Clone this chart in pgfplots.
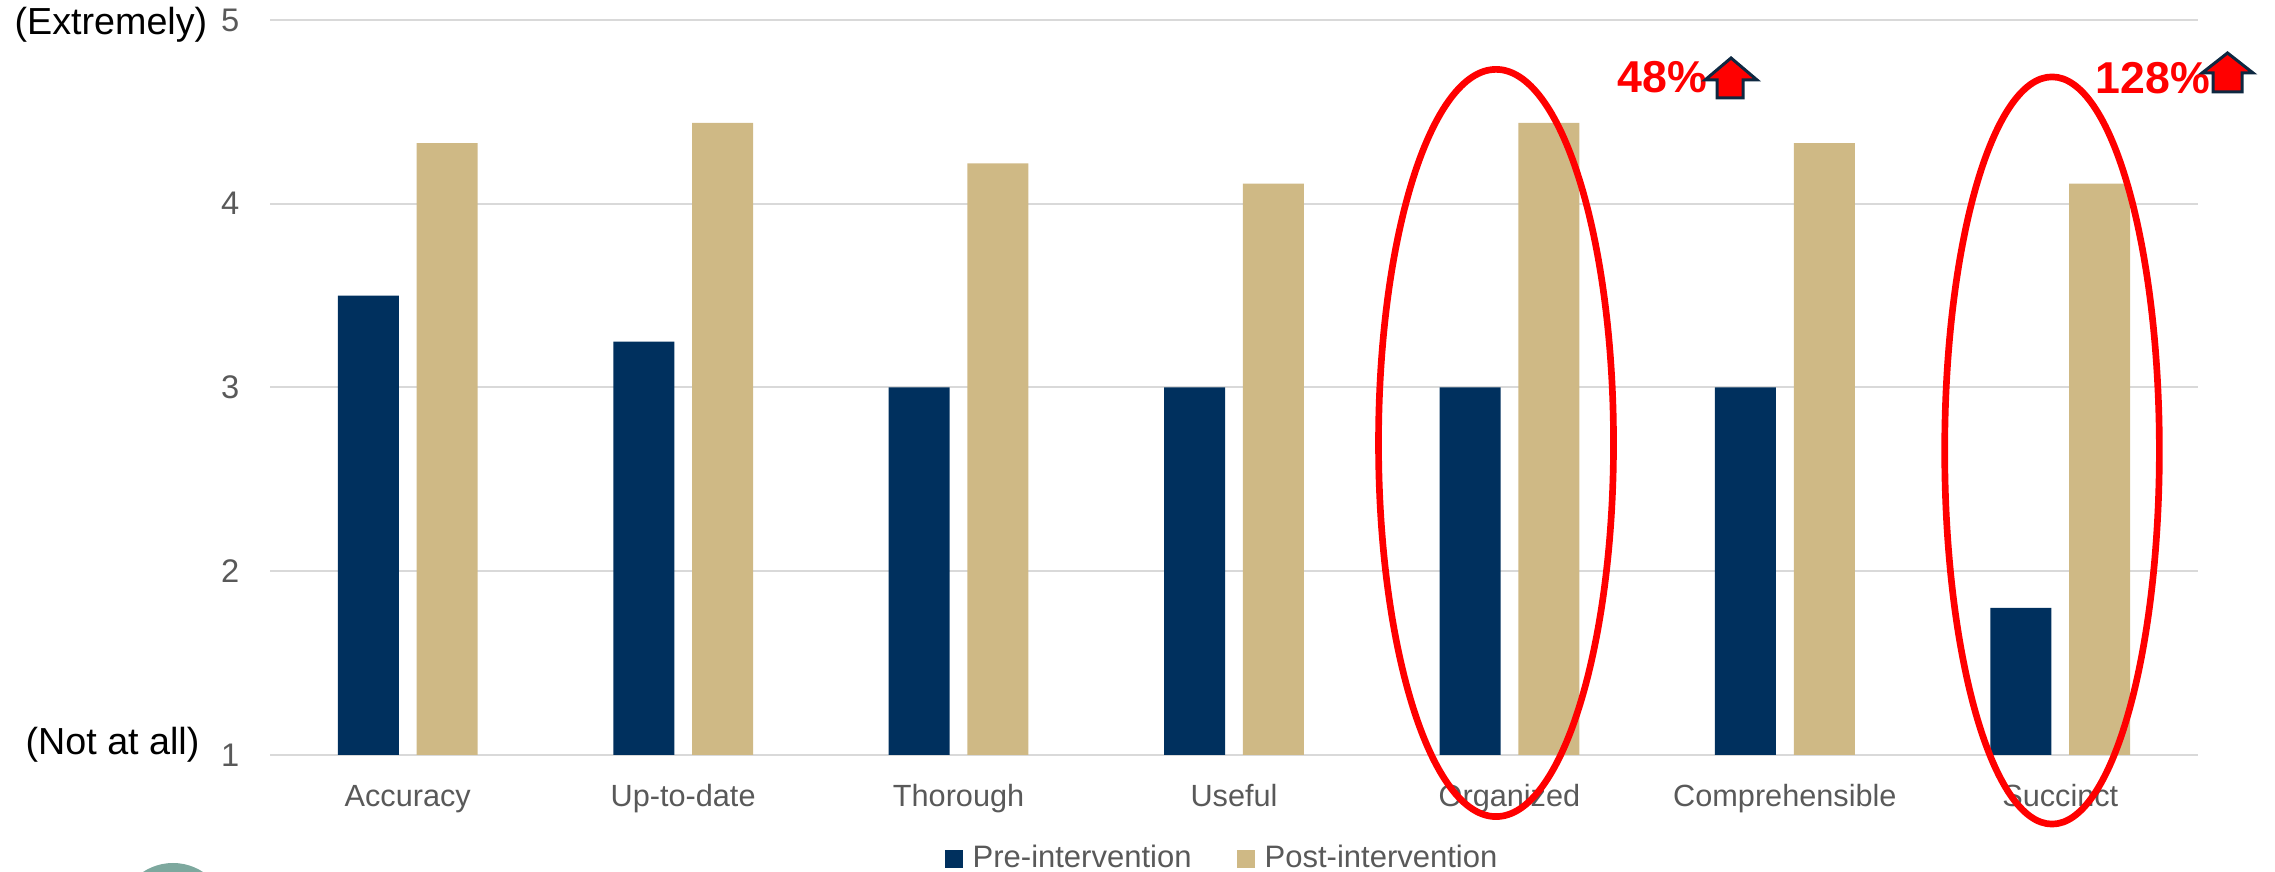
\documentclass[border=0pt]{standalone}
\usepackage{pgfplots}
\pgfplotsset{compat=1.18}
\usepackage{fontspec}
\setmainfont{Liberation Sans}
\definecolor{pre}{RGB}{0,48,94}
\definecolor{post}{RGB}{207,185,133}
\definecolor{gridc}{RGB}{217,217,217}
\definecolor{tickc}{RGB}{89,89,89}
\definecolor{arrowline}{RGB}{14,40,65}
\definecolor{logoc}{RGB}{125,168,158}
\begin{document}
\begin{tikzpicture}
\path[use as bounding box] (0,0) rectangle (682.5pt,261.6pt);
\begin{axis}[
  at={(81pt,35.1pt)}, anchor=south west,
  scale only axis, width=578.4pt, height=220.5pt,
  ymin=1, ymax=5, ytick={1,2,3,4,5},
  xmin=-0.5, xmax=6.5,
  xtick={0,1,2,3,4,5,6},
  xticklabels={Accuracy,Up-to-date,Thorough,Useful,Organized,Comprehensible,Succinct},
  axis line style={draw=none},
  major tick length=0pt,
  ymajorgrids, grid style={gridc, line width=0.6pt},
  /pgf/number format/assume math mode=true,
  ticklabel style={font=\fontsize{9.2}{9.2}\selectfont, text=tickc, inner sep=0pt},
  yticklabel style={anchor=east, xshift=-9pt, font=\fontsize{9.8}{9.8}\selectfont},
  xticklabel style={anchor=base, yshift=-15.5pt},
]
\addplot[ybar, bar width=0.2215, bar shift=-0.143, fill=pre, draw=none]
  coordinates {(0,3.5) (1,3.25) (2,3) (3,3) (4,3) (5,3) (6,1.8)};
\addplot[ybar, bar width=0.2215, bar shift=0.143, fill=post, draw=none]
  coordinates {(0,4.33) (1,4.44) (2,4.22) (3,4.11) (4,4.44) (5,4.33) (6,4.11)};
\end{axis}
\begin{scope}[x=0.3pt, y=0.3pt]
  % annotations
  \draw[red, line width=2pt] (1496,429) ellipse [x radius=35.25pt, y radius=112.08pt];
  \draw[red, line width=2pt] (2052,421.5) ellipse [x radius=32.2pt, y radius=112.08pt];
  \node[anchor=base west, inner sep=0pt, text=red, font=\bfseries\fontsize{13.4}{13.4}\selectfont] at (1617,779) {48\%};
  \node[anchor=base west, inner sep=0pt, text=red, font=\bfseries\fontsize{13.4}{13.4}\selectfont] at (2095,778) {128\%};
  \filldraw[fill=red, draw=arrowline, line width=0.9pt, line join=miter]
    (1717,774) -- (1743,774) -- (1743,792) -- (1757,792) -- (1731,814) -- (1705,792) -- (1717,792) -- cycle;
  \filldraw[fill=red, draw=arrowline, line width=0.9pt, line join=miter]
    (2213,780) -- (2242,780) -- (2242,799) -- (2253,799) -- (2227.5,819) -- (2202,799) -- (2213,799) -- cycle;
  % side labels
  \node[anchor=base west, inner sep=0pt, font=\fontsize{11.3}{11.3}\selectfont] at (14,837) {(Extremely)};
  \node[anchor=base west, inner sep=0pt, font=\fontsize{11.3}{11.3}\selectfont] at (25,117) {(Not at all)};
  % legend
  \fill[pre] (945,4) rectangle (963,22);
  \node[anchor=base west, inner sep=0pt, text=tickc, font=\fontsize{9.3}{9.3}\selectfont] at (972,4) {Pre-intervention};
  \fill[post] (1237,4) rectangle (1255,22);
  \node[anchor=base west, inner sep=0pt, text=tickc, font=\fontsize{9.3}{9.3}\selectfont] at (1264,4) {Post-intervention};
  % partial logo circle
  \begin{scope}
    \clip (0,0) rectangle (2275,872);
    \fill[logoc] (173,-45.5) circle [radius=16.35pt];
  \end{scope}
\end{scope}
\end{tikzpicture}
\end{document}
